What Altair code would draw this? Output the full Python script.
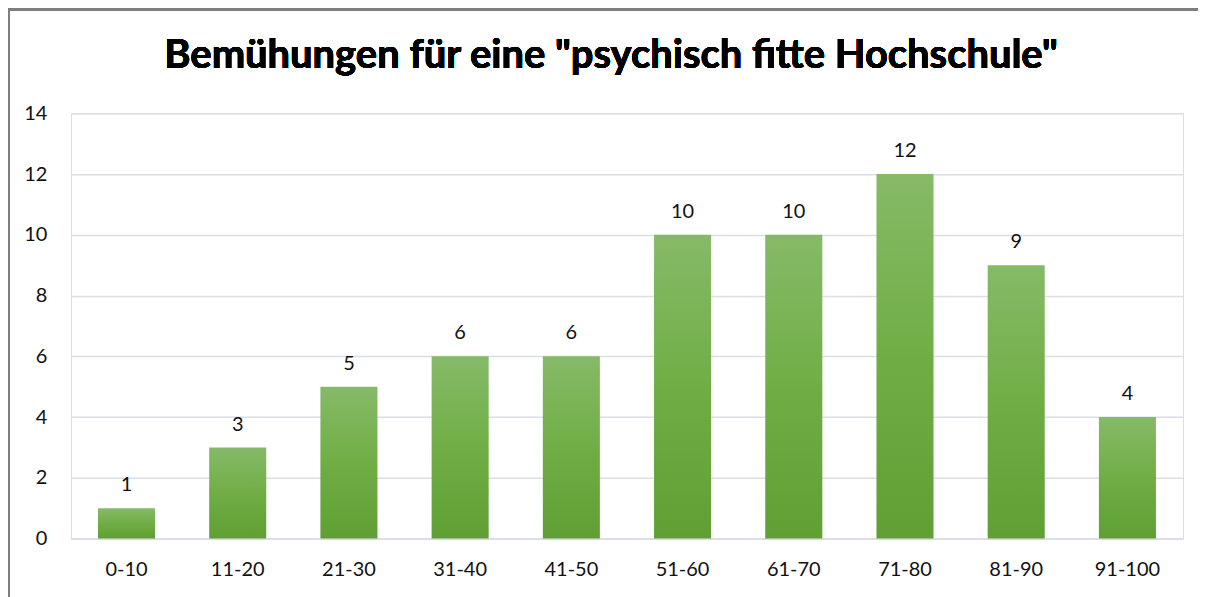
import altair as alt
import pandas as pd

categories = ["0-10", "11-20", "21-30", "31-40", "41-50", "51-60", "61-70", "71-80", "81-90", "91-100"]
values = [1, 3, 5, 6, 6, 10, 10, 12, 9, 4]
title_text = 'Bemühungen für eine "psychisch fitte Hochschule"'

df = pd.DataFrame({"cat": categories, "val": values})

W, H = 1114, 426
FONT = "Lato"

x_enc = alt.X("cat:N", sort=categories,
              scale=alt.Scale(paddingInner=0.487, paddingOuter=0.2435),
              axis=alt.Axis(title=None, labelAngle=0, labelFontSize=20, labelFont=FONT,
                            labelColor="#111111", labelPadding=21, ticks=False,
                            domain=True, domainColor="#dadee5", domainWidth=1.5))
y_enc = alt.Y("val:Q", scale=alt.Scale(domain=[0, 14], nice=False),
              axis=alt.Axis(title=None, values=[0, 2, 4, 6, 8, 10, 12, 14], labelFontSize=20,
                            labelFont=FONT, labelColor="#111111", labelPadding=24,
                            ticks=False, domain=False, gridColor="#dadee5", gridWidth=1.5))

grad = alt.Gradient(gradient="linear", x1=0, x2=0, y1=0, y2=1,
                    stops=[alt.GradientStop(color="#86ba68", offset=0),
                           alt.GradientStop(color="#70ae45", offset=0.5),
                           alt.GradientStop(color="#5f9f33", offset=1)])

frame = alt.Chart(df).mark_rect(fill=None, stroke="#7f7f7f", strokeWidth=2, clip=False).encode(
    x=alt.value(-62), x2=alt.value(W + 200), y=alt.value(-104), y2=alt.value(H + 200))

bars = alt.Chart(df).mark_bar(color=grad).encode(x=x_enc, y=y_enc)

labels = alt.Chart(df).mark_text(baseline="alphabetic", dy=-17, fontSize=20, font=FONT,
                                 color="#111111").encode(
    x=alt.X("cat:N", sort=categories), y="val:Q", text="val:Q")

title = alt.Chart(df).mark_text(fontSize=40, font=FONT, fontWeight="bold", color="#000000",
                                baseline="alphabetic", align="center").encode(
    x=alt.value(W / 2 - 16), y=alt.value(-45), text=alt.value(title_text))

chart = alt.layer(frame, bars, labels, title).properties(
    width=W, height=H, padding={"left": 63, "top": 105, "right": 15, "bottom": 60},
    autosize=alt.AutoSizeParams(type="none")
).configure_view(stroke=None).configure(background="white")

chart.save("out.html", embed_options={"renderer": "svg", "actions": False})
